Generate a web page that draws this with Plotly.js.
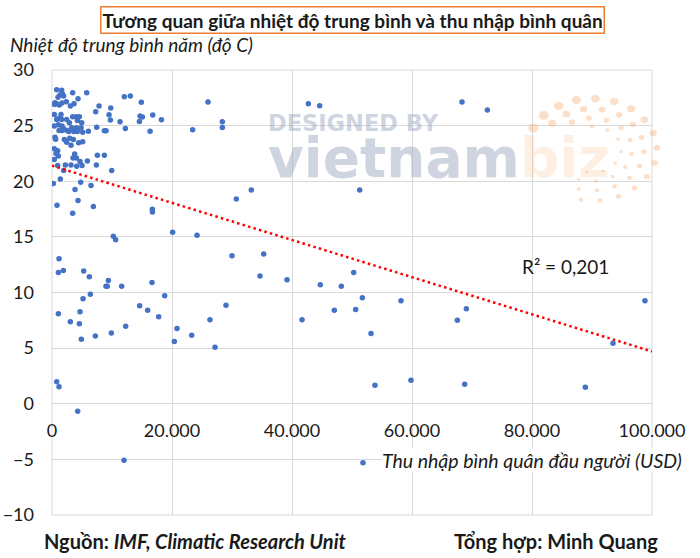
<!DOCTYPE html>
<html>
<head>
<meta charset="utf-8">
<script src="https://cdn.plot.ly/plotly-3.0.1.min.js"></script>
<style>html,body{margin:0;padding:0;background:#fff;}#chart{width:700px;height:558px;}</style>
</head>
<body>
<div id="chart"></div>
<script>
// Thu nhập bình quân đầu người (USD)
const incomeUSD = [
  778,1612,3447,5782,1724,1334,1946,1001,4337,2391,500,389,778,1668,1223,3670,3058,7840,7284,9786,
  389,1501,3447,4059,4559,9508,778,1112,1612,2446,2891,4226,4948,9730,11342,16790,18236,14678,14567,
  389,1056,1668,1890,3280,4059,4837,7450,8729,9007,12232,16346,1168,1668,2446,2780,3614,4226,6060,5115,
  500,612,2057,2947,3558,4448,5115,2446,3169,389,945,667,1056,389,3781,3503,4059,4670,5894,7562,8729,
  945,2224,3169,4115,5004,1946,7395,9953,222,1390,4782,6505,3836,834,4337,3447,6894,16735,16735,
  12050,13050,14890,15060,
  10220,10610,1170,1060,1890,5280,6220,9390,9000,9220,11610,16670,6390,5170,18780,14610,15940,17780,
  1060,4670,3060,4560,12280,7220,9890,4890,20830,20390,23280,26330,27170,29000,30000,20110,24170,
  780,1170,4280,
  35280,34670,39170,44720,48220,50280,51720,47050,50610,41670,53170,58170,67560,53830,59830,
  69060,68780,88890,93500,98830,
  26000,23440,28390,28390,42720,44610,33220,30720,51280,
  68330,72560,
  12000,51830
];
// Nhiệt độ trung bình năm (độ C)
const avgTempC = [
  28.23,28.17,27.96,27.96,27.87,27.75,27.66,27.54,27.42,27.15,27.06,26.91,26.97,27.03,26.85,26.97,26.76,26.76,26.25,26.58,
  26.0,26.0,25.8,25.8,25.8,25.98,25.56,25.65,25.56,25.56,25.26,25.47,25.26,25.5,25.35,25.95,25.53,25.86,25.38,
  24.96,25.08,24.96,24.74,24.8,24.8,24.8,24.86,24.53,24.53,24.74,24.5,24.56,24.56,24.59,24.47,24.47,24.47,24.5,24.41,
  23.96,23.78,23.75,23.87,23.75,23.45,23.54,23.51,23.24,22.92,22.74,22.5,22.26,21.96,22.44,22.08,22.08,21.77,21.83,22.34,22.34,
  21.41,21.47,21.47,21.35,21.41,20.96,21.47,20.96,19.79,20.21,19.91,19.61,19.25,17.84,18.26,17.12,17.72,17.48,17.24,
  27.6,27.66,27.1,25.77,
  15.05,14.75,13.04,11.8,11.98,11.93,11.41,11.08,10.57,10.57,10.57,10.9,9.85,9.43,9.7,8.8,8.41,7.81,
  8.08,8.26,7.36,7.18,6.97,6.1,6.37,5.8,6.76,5.59,6.16,7.54,5.08,8.86,13.3,15.41,15.14,
  1.98,1.53,-0.68,
  13.46,11.48,11.14,10.69,10.57,11.8,9.52,8.41,8.47,7.54,6.31,9.25,7.51,1.66,2.11,
  8.53,1.75,1.48,5.44,9.25,
  27.12,24.63,25.35,24.84,26.97,26.79,19.22,18.41,19.22,
  27.12,26.4,
  -5.07,-5.3
];
// Đường xu hướng tuyến tính (đầu và cuối)
const trendX = [0, 100000];
const trendY = [21.4, 4.7];
const r2Label = 'R² = 0,201';
const xTickVals = [0, 20000, 40000, 60000, 80000, 100000];
const yTickVals = [-10, -5, 0, 5, 10, 15, 20, 25, 30];

const FONT = 'Lato, "Open Sans", sans-serif';
const LOGO = '"DejaVu Sans", sans-serif';
const INK = '#1a1a1a';
const GRID = '#d9d9d9';
const LOGO_GRAY = 'rgba(160,170,195,0.5)';
const LOGO_PEACH = 'rgba(248,170,110,0.38)';

// pixel -> paper helpers for the decorative watermark only
const PL = 52, PW = 600, PB = 515, PH = 444.5;
const px2x = p => (p - PL) / PW;
const px2y = p => (PB - p) / PH;

// decorative dotted swirl of the watermark logo
const logoDots = [];
const rings = [
  {r: 60, n: 16, a0: -155, a1: 100, s0: 9, s1: 4},
  {r: 48, n: 13, a0: -140, a1: 105, s0: 7, s1: 3.5},
  {r: 37, n: 10, a0: -120, a1: 110, s0: 5.5, s1: 3},
  {r: 27, n: 7, a0: -90, a1: 100, s0: 4, s1: 2.5}
];
rings.forEach(rg => {
  for (let i = 0; i < rg.n; i++) {
    const t = i / (rg.n - 1);
    const ang = (rg.a0 + t * (rg.a1 - rg.a0)) * Math.PI / 180;
    const cx = 592 + rg.r * 1.08 * Math.cos(ang), cy = 150 + rg.r * 0.85 * Math.sin(ang);
    const s = (rg.s0 + (rg.s1 - rg.s0) * t) / 2;
    logoDots.push({type: 'circle', xref: 'paper', yref: 'paper',
      x0: px2x(cx - s * 1.15), x1: px2x(cx + s * 1.15), y0: px2y(cy + s), y1: px2y(cy - s),
      fillcolor: LOGO_PEACH, line: {width: 0}, layer: 'above'});
  }
});

const traces = [
  {
    x: incomeUSD, y: avgTempC, type: 'scatter', mode: 'markers',
    marker: {color: '#4472C4', size: 5.5},
    hoverinfo: 'x+y', showlegend: false
  },
  {
    x: trendX, y: trendY, type: 'scatter', mode: 'lines',
    line: {color: '#FF0000', width: 2.5, dash: '2.5px,3.2px'},
    hoverinfo: 'skip', showlegend: false
  }
];

const layout = {
  width: 700, height: 558,
  margin: {l: 52, r: 48, t: 70, b: 43},
  paper_bgcolor: '#ffffff', plot_bgcolor: '#ffffff',
  separators: ',.',
  font: {family: FONT, size: 18, color: INK},
  showlegend: false,
  xaxis: {
    range: [0, 100000], tickvals: xTickVals, tickformat: ',d',
    anchor: 'free', position: 0.25,
    showgrid: true, gridcolor: GRID, gridwidth: 1,
    zeroline: false, showline: false, ticks: '',
    ticklabelstandoff: 14,
    tickfont: {family: FONT, size: 18, color: INK}
  },
  yaxis: {
    range: [-10, 30], tickvals: yTickVals,
    showgrid: true, gridcolor: GRID, gridwidth: 1,
    zeroline: false, showline: false, ticks: '',
    ticklabelstandoff: 17,
    tickfont: {family: FONT, size: 18, color: INK}
  },
  shapes: [
    {type: 'rect', xref: 'paper', yref: 'paper', x0: 0, x1: 1, y0: 0, y1: 1,
     line: {color: GRID, width: 1}, fillcolor: 'rgba(0,0,0,0)', layer: 'below'}
  ].concat(logoDots),
  annotations: [
    {xref: 'paper', yref: 'paper', x: 0.5, y: 1.1125, xanchor: 'center', yanchor: 'middle',
     text: '<b>Tương quan giữa nhiệt độ trung bình và thu nhập bình quân</b>',
     font: {family: FONT, size: 19, color: INK}, showarrow: false,
     bordercolor: '#ED7D31', borderwidth: 1.5, borderpad: 1},
    {xref: 'paper', yref: 'paper', x: -0.0733, y: 1.057, xanchor: 'left', yanchor: 'middle',
     text: '<i>Nhiệt độ trung bình năm (độ C)</i>',
     font: {family: FONT, size: 19, color: INK}, showarrow: false},
    {xref: 'paper', yref: 'paper', x: 1.0517, y: 0.1215, xanchor: 'right', yanchor: 'middle',
     text: '<i>Thu nhập bình quân đầu người (USD)</i>',
     font: {family: FONT, size: 19.5, color: INK}, showarrow: false, bgcolor: '#ffffff', borderpad: 0},
    {xref: 'paper', yref: 'paper', x: 0.78, y: 0.559, xanchor: 'left', yanchor: 'middle',
     text: r2Label, font: {family: FONT, size: 19, color: INK}, showarrow: false},
    {xref: 'paper', yref: 'paper', x: -0.0167, y: -0.0585, xanchor: 'left', yanchor: 'middle',
     text: '<b>Nguồn: <i>IMF, Climatic Research Unit</i></b>',
     font: {family: FONT, size: 20, color: INK}, showarrow: false},
    {xref: 'paper', yref: 'paper', x: 1.0133, y: -0.0585, xanchor: 'right', yanchor: 'middle',
     text: '<b>Tổng hợp: Minh Quang</b>',
     font: {family: FONT, size: 20, color: INK}, showarrow: false},
    // watermark (one block of two lines)
    {xref: 'paper', yref: 'paper', x: px2x(266), y: px2y(150), xanchor: 'left', yanchor: 'middle',
     align: 'left',
     text: '<b><span style="font-size:22.5px">DESIGNED BY</span><br>' +
           '<span style="font-size:55px">vietnam<span style="color:' + LOGO_PEACH + '">biz</span></span></b>',
     font: {family: LOGO, size: 35, color: LOGO_GRAY}, showarrow: false}
  ]
};

Plotly.newPlot('chart', traces, layout, {displayModeBar: false, staticPlot: true});
</script>
</body>
</html>
